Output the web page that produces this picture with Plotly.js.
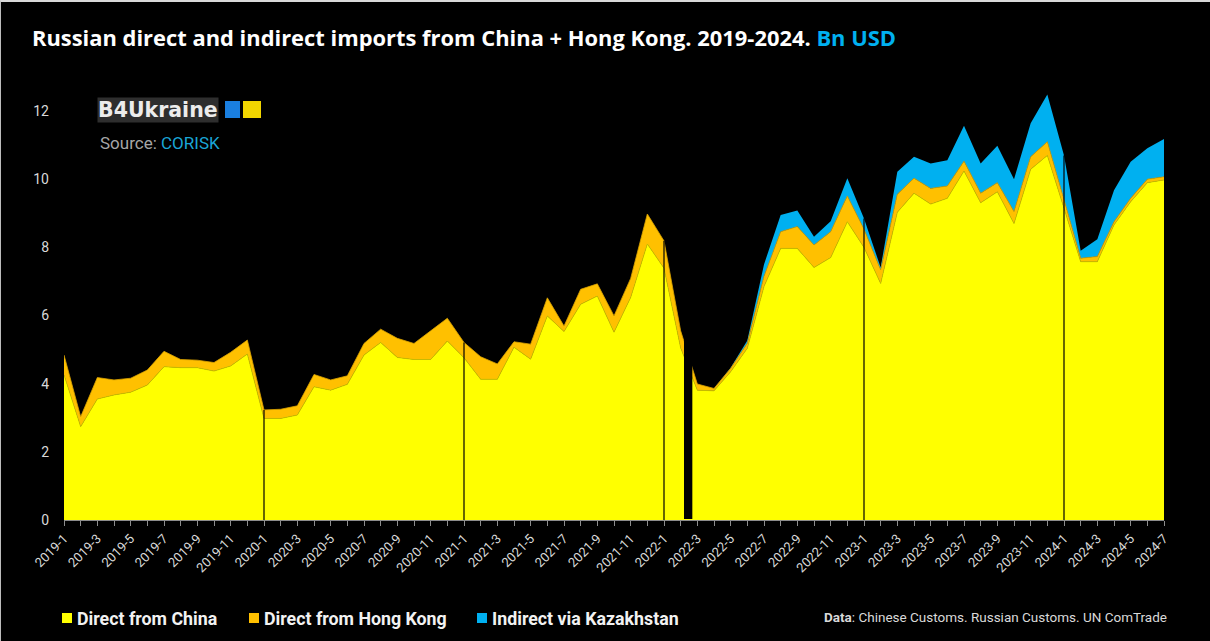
<!DOCTYPE html>
<html>
<head>
<meta charset="utf-8">
<script src="https://cdn.plot.ly/plotly-3.0.1.min.js"></script>
<style>
html,body{margin:0;padding:0;background:#000;}
#wrap{width:1210px;height:641px;box-sizing:border-box;border-top:2px solid #d8d8d8;border-left:1px solid #bdbdbd;overflow:hidden;}
#chart{width:1209px;height:639px;}
</style>
</head>
<body>
<div id="wrap"><div id="chart"></div></div>
<script>
// ---- data (Bn USD) ----
const months = [
 '2019-1','2019-2','2019-3','2019-4','2019-5','2019-6','2019-7','2019-8','2019-9','2019-10','2019-11','2019-12',
 '2020-1','2020-2','2020-3','2020-4','2020-5','2020-6','2020-7','2020-8','2020-9','2020-10','2020-11','2020-12',
 '2021-1','2021-2','2021-3','2021-4','2021-5','2021-6','2021-7','2021-8','2021-9','2021-10','2021-11','2021-12',
 '2022-1','2022-2','2022-3','2022-4','2022-5','2022-6','2022-7','2022-8','2022-9','2022-10','2022-11','2022-12',
 '2023-1','2023-2','2023-3','2023-4','2023-5','2023-6','2023-7','2023-8','2023-9','2023-10','2023-11','2023-12',
 '2024-1','2024-2','2024-3','2024-4','2024-5','2024-6','2024-7'
];
const directChina = [
 4.26,2.74,3.55,3.67,3.75,3.96,4.50,4.47,4.47,4.37,4.52,4.87,
 2.98,2.98,3.08,3.91,3.81,3.98,4.84,5.21,4.77,4.71,4.71,5.25,
 4.76,4.13,4.13,5.07,4.72,5.99,5.53,6.33,6.57,5.51,6.53,8.10,
 7.39,5.05,3.81,3.79,4.35,5.04,6.85,7.97,7.97,7.41,7.70,8.75,
 8.00,6.94,9.03,9.59,9.27,9.44,10.24,9.31,9.63,8.70,10.29,10.70,
 9.15,7.58,7.58,8.66,9.34,9.90,9.98
];
const directHongKong = [
 0.58,0.29,0.63,0.44,0.41,0.44,0.45,0.24,0.22,0.25,0.40,0.41,
 0.25,0.27,0.27,0.36,0.30,0.25,0.34,0.39,0.56,0.47,0.84,0.67,
 0.45,0.66,0.45,0.16,0.44,0.53,0.16,0.44,0.36,0.48,0.56,0.88,
 0.80,0.50,0.18,0.07,0.10,0.15,0.30,0.49,0.64,0.66,0.76,0.76,
 0.53,0.40,0.53,0.44,0.46,0.36,0.29,0.28,0.27,0.35,0.37,0.40,
 0.25,0.10,0.15,0.09,0.10,0.10,0.09
];
const indirectKazakhstan = [
 0,0,0,0,0,0,0,0,0,0,0,0,
 0,0,0,0,0,0,0,0,0,0,0,0,
 0,0,0,0,0,0,0,0,0,0,0,0,
 0,0,0,0,0.02,0.08,0.35,0.49,0.47,0.24,0.31,0.52,
 0.32,0.07,0.66,0.63,0.73,0.76,1.04,0.87,1.08,0.95,0.98,1.39,
 1.30,0.22,0.51,0.93,1.07,0.91,1.11
];
const seriesNames = ['Direct from China','Direct from Hong Kong','Indirect via Kazakhstan'];
const seriesColors = ['#FFFF00','#FFC000','#00B0F0'];
const leftTicks = [0,2,4,6,8,10,12];
const rightTicks = [0,1,2,3,4,5,6,7,8,9,10,11,12];
const yearStarts = ['2020-1','2021-1','2022-1','2023-1','2024-1'];
const invasionGap = ['2022-2','2022-3'];

// ---- layout helpers (pixel -> paper) ----
const W = 1209, H = 639;
const M = {l:63, r:46, t:75, b:121};
const PW = W - M.l - M.r, PH = H - M.t - M.b;
const px = x => (x - 1 - M.l) / PW;
const py = y => (H + 2 - M.b - y) / PH;

const xIdx = months.map((m,i)=>i);
const evenIdx = xIdx.filter(i => i % 2 === 0);

const lineCols = ['#C9C200','#D9A200','#00A0DC'];
const traces = [directChina, directHongKong, indirectKazakhstan].map((arr,k)=>({
  type:'scatter', mode:'lines', x:xIdx, y:arr, name:seriesNames[k],
  stackgroup:'one', fillcolor:seriesColors[k],
  line:{color:lineCols[k], width: k===2 ? 0 : 0.8},
  hoverinfo:'x+y', showlegend:false
}));

const totals = xIdx.map(i => directChina[i] + directHongKong[i] + indirectKazakhstan[i]);

const shapes = [];
yearStarts.forEach(m => {
  const i = months.indexOf(m);
  shapes.push({type:'line', xref:'x', yref:'y', x0:i, x1:i, y0:0, y1:totals[i],
    line:{color:'#000', width:1.2}, layer:'above'});
});
const g0 = months.indexOf(invasionGap[0]);
shapes.push({type:'rect', xref:'x', yref:'y', x0:g0+0.2, x1:g0+0.7, y0:0.03, y1:13,
  fillcolor:'#000', line:{width:0}, layer:'above'});

// legend squares
const legX = [62, 249, 477];
legX.forEach((x,k)=>{
  shapes.push({type:'rect', xref:'paper', yref:'paper', x0:px(x), x1:px(x+10), y0:py(623), y1:py(613),
    fillcolor:seriesColors[k], line:{width:0}});
});
// logo squares
shapes.push({type:'rect', xref:'paper', yref:'paper', x0:px(225), x1:px(240), y0:py(118), y1:py(101), fillcolor:'#1A7FE0', line:{width:0}});
shapes.push({type:'rect', xref:'paper', yref:'paper', x0:px(243), x1:px(261), y0:py(118), y1:py(101), fillcolor:'#F2D600', line:{width:0}});

const annotations = [];
const legTextX = [75, 262, 490];
legTextX.forEach((x,k)=>{
  annotations.push({xref:'paper', yref:'paper', x:px(x), y:py(618), xanchor:'left', yanchor:'middle',
    text:'<b>'+seriesNames[k]+'</b>', showarrow:false, font:{family:'Roboto', size:17.8, color:'#f2f2f2'}});
});
annotations.push({xref:'paper', yref:'paper', x:px(1169), y:py(617), xanchor:'right', yanchor:'middle',
  text:'<b>Data</b>: Chinese Customs. Russian Customs. UN ComTrade', showarrow:false,
  font:{family:'Roboto', size:13.5, color:'#d9d9d9'}});
annotations.push({xref:'paper', yref:'paper', x:px(97), y:py(109.5), xanchor:'left', yanchor:'middle',
  text:'<b>B4Ukraine</b>', showarrow:false, bgcolor:'#2e2e2e', borderpad:0,
  font:{family:'DejaVu Sans', size:20.5, color:'#ececec'}});
annotations.push({xref:'paper', yref:'paper', x:px(98), y:py(143), xanchor:'left', yanchor:'middle',
  text:'Source: <span style="color:#1AA6D6">CORISK</span>', showarrow:false,
  font:{family:'Roboto', size:17, color:'#a6a6a6'}});

const tickFont = {family:'Roboto', size:14, color:'#d9d9d9'};
const layout = {
  width:W, height:H,
  paper_bgcolor:'#000', plot_bgcolor:'#000',
  margin:M,
  title:{text:'<b>Russian direct and indirect imports from China + Hong Kong. 2019-2024. <span style="color:#00B0F0">Bn USD</span></b>',
    xref:'container', yref:'container', x:31/W, y:1-36/H, xanchor:'left', yanchor:'middle',
    font:{family:'Open Sans', size:21.9, color:'#ffffff'}},
  xaxis:{type:'linear', range:[0,66], tickmode:'array', tickvals:evenIdx, ticktext:evenIdx.map(i=>months[i]),
    tickangle:-45, tickfont:{family:'Roboto', size:13, color:'#d9d9d9'},
    ticks:'outside', ticklen:5, tickcolor:'#8c8c8c', showline:true, linecolor:'#8c8c8c', linewidth:1,
    minor:{ticks:'outside', ticklen:5, tickcolor:'#8c8c8c', tickmode:'linear', tick0:0, dtick:1},
    showgrid:false, zeroline:false, fixedrange:true},
  yaxis:{range:[0,13], tickmode:'array', tickvals:leftTicks, ticktext:leftTicks.map(String),
    tickfont:tickFont, showgrid:false, zeroline:false, showline:false, ticks:'', ticklabelstandoff:14},
  yaxis2:{range:[0,13], overlaying:'y', side:'right', tickmode:'array', tickvals:rightTicks, ticktext:rightTicks.map(String),
    tickfont:tickFont, showgrid:false, zeroline:false, showline:false, ticks:'', ticklabelstandoff:14},
  shapes:shapes,
  annotations:annotations,
  showlegend:false,
  font:{family:'Roboto', color:'#d9d9d9'}
};
Plotly.newPlot('chart', traces, layout, {displayModeBar:false, staticPlot:true});
</script>
</body>
</html>
